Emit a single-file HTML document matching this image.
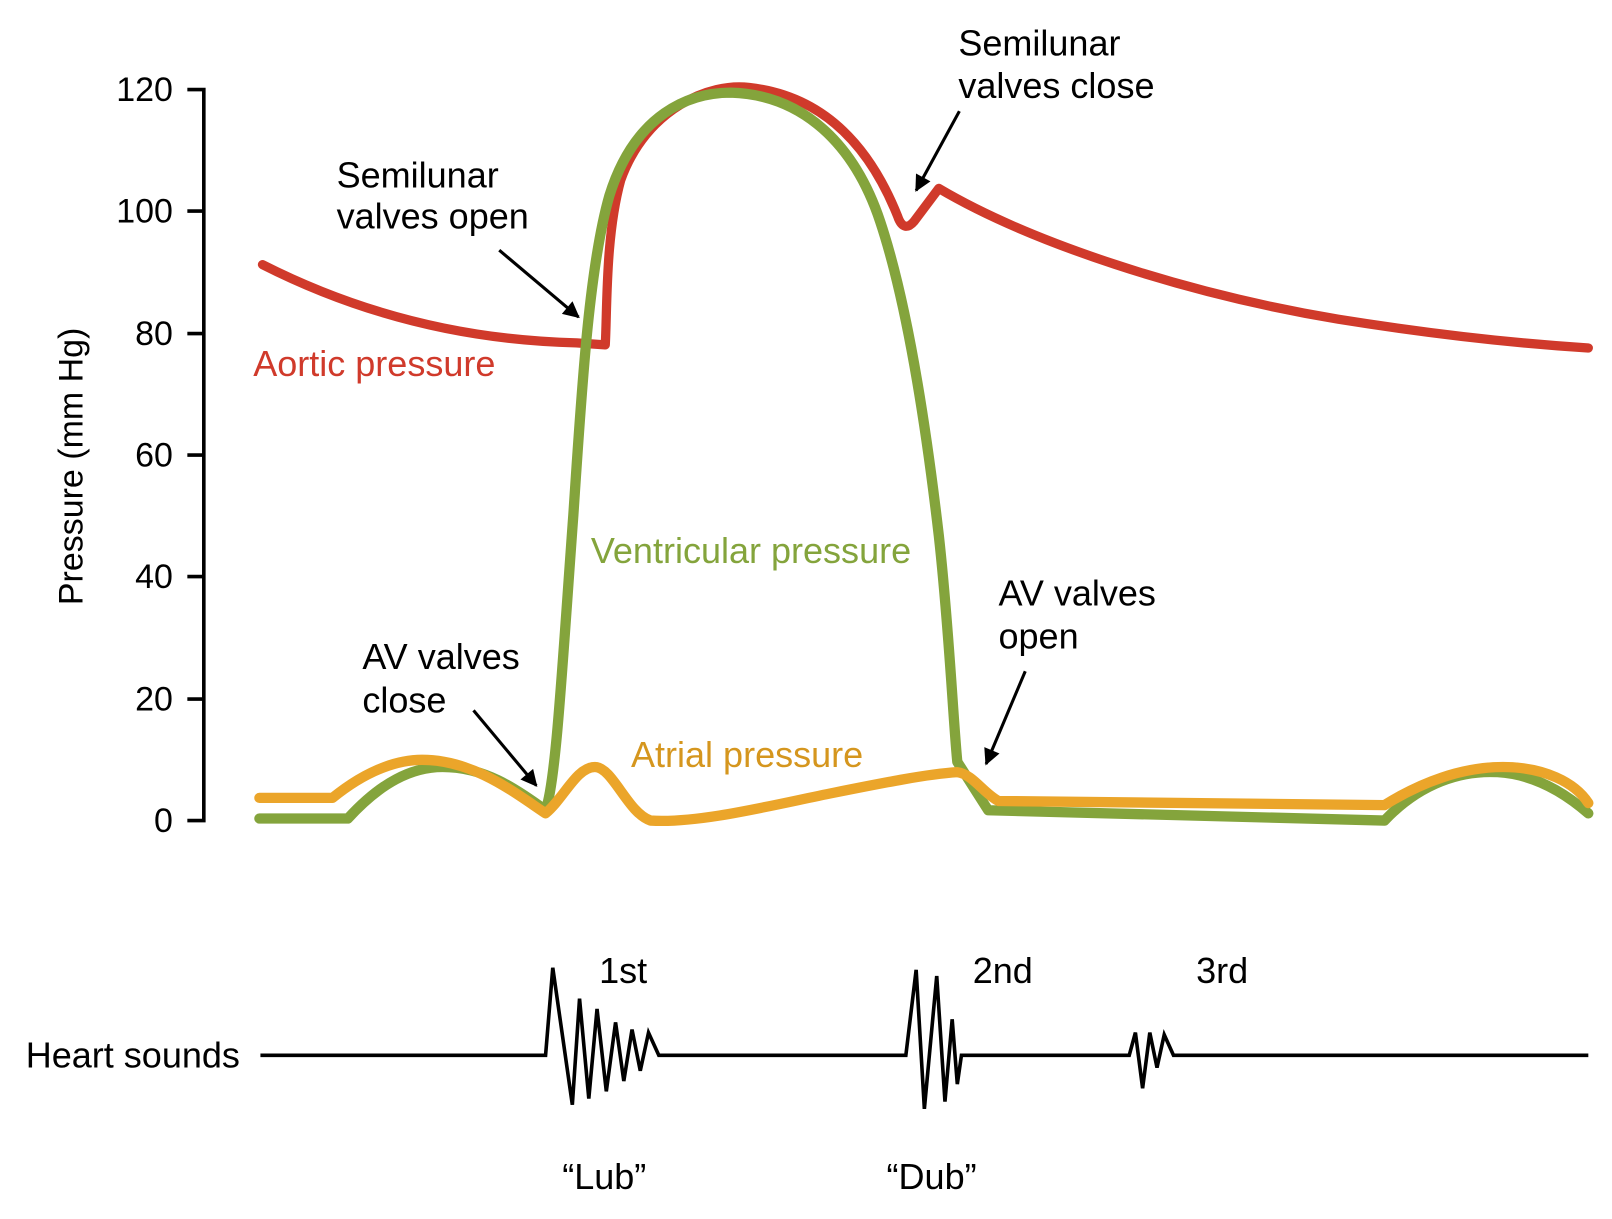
<!DOCTYPE html>
<html><head><style>html,body{margin:0;padding:0;background:#fff}svg{display:block}</style></head>
<body>
<svg width="1612" height="1219" viewBox="0 0 1566 1184" preserveAspectRatio="none" xmlns="http://www.w3.org/2000/svg" font-family="Liberation Sans, sans-serif">
<defs>
<marker id="ah2" viewBox="0 0 10 10" refX="9" refY="5" markerWidth="20" markerHeight="16" markerUnits="userSpaceOnUse" orient="auto">
<path d="M0,0 L10,5 L0,10 z" fill="#000"/></marker>
</defs>
<g stroke="#000" stroke-width="3.5" fill="none">
<path d="M182,87 H198 V797 H182"/>
<path d="M182,205 H198 M182,324 H198 M182,442 H198 M182,560 H198 M182,679 H198"/>
</g>
<g font-size="33" text-anchor="end" fill="#000">
<text x="168" y="98">120</text><text x="168" y="216">100</text><text x="168" y="335">80</text>
<text x="168" y="453">60</text><text x="168" y="571">40</text><text x="168" y="690">20</text><text x="168" y="808">0</text>
</g>
<text transform="translate(80,453) rotate(-90)" font-size="33" text-anchor="middle">Pressure (mm Hg)</text>

<path d="M255,257 C330,295 430,330 560,333 L588,335 C590,300 588,230 603,175 C628,105 690,80 728,85 C790,92 840,130 872,210 C876,222 882,222 888,215 L912,183 C1000,235 1150,285 1300,310 C1400,326 1480,334 1543,338" fill="none" stroke="#d03a2b" stroke-width="9" stroke-linecap="round" stroke-linejoin="round"/>
<path d="M252,795 L338,795 C370,760 400,745 430,745 C470,745 500,765 530,787 C540,760 546,650 557,500 C565,380 572,260 592,190 C617,110 670,90 710,90 C780,92 830,140 855,215 C880,290 898,400 912,520 C922,610 926,700 930,740 L960,787 L1345,797 C1380,760 1420,748 1455,750 C1490,752 1520,770 1543,790" fill="none" stroke="#84a43c" stroke-width="10" stroke-linecap="round" stroke-linejoin="round"/>
<path d="M252,775 L323,775 C360,745 390,738 410,738 C460,738 500,770 530,790 C548,775 560,745 578,745 C595,745 610,790 632,797 C680,800 750,782 810,770 C860,760 900,752 930,750 C945,752 955,770 970,778 L1345,782 C1380,760 1420,745 1460,745 C1500,745 1530,760 1543,780" fill="none" stroke="#eba52a" stroke-width="10" stroke-linecap="round" stroke-linejoin="round"/>

<path d="M253,1025 H530 L537,940 L556,1073 L563,970 L572,1067 L580,980 L589,1060 L598,993 L606,1050 L614,1000 L622,1040 L630,1003 L640,1025 H880 L890,942 L898,1077 L910,948 L918,1070 L925,990 L930,1053 L934,1025 H1097 L1103,1003 L1110,1057 L1117,1003 L1124,1037 L1131,1005 L1140,1025 H1543" fill="none" stroke="#000" stroke-width="3.5" stroke-linejoin="miter"/>

<g font-size="35" fill="#000">
<text x="25" y="1037">Heart sounds</text>
<text x="582" y="955">1st</text><text x="945" y="955">2nd</text><text x="1162" y="955">3rd</text>
<text x="587" y="1155" text-anchor="middle">“Lub”</text><text x="905" y="1155" text-anchor="middle">“Dub”</text>
<text x="931" y="54">Semilunar</text><text x="931" y="95">valves close</text>
<text x="327" y="182">Semilunar</text><text x="327" y="222">valves open</text>
<text x="352" y="650">AV valves</text><text x="352" y="692">close</text>
<text x="970" y="588">AV valves</text><text x="970" y="630">open</text>
<text x="246" y="365" fill="#d03a2b">Aortic pressure</text>
<text x="574" y="547" fill="#84a43c">Ventricular pressure</text>
<text x="613" y="745" fill="#d5961e">Atrial pressure</text>
</g>
<g stroke="#000" stroke-width="3" marker-end="url(#ah2)">
<line x1="932" y1="108" x2="890" y2="185"/>
<line x1="485" y1="243" x2="562" y2="308"/>
<line x1="460" y1="690" x2="521" y2="763"/>
<line x1="996" y1="652" x2="958" y2="742"/>
</g>
</svg>
</body></html>
